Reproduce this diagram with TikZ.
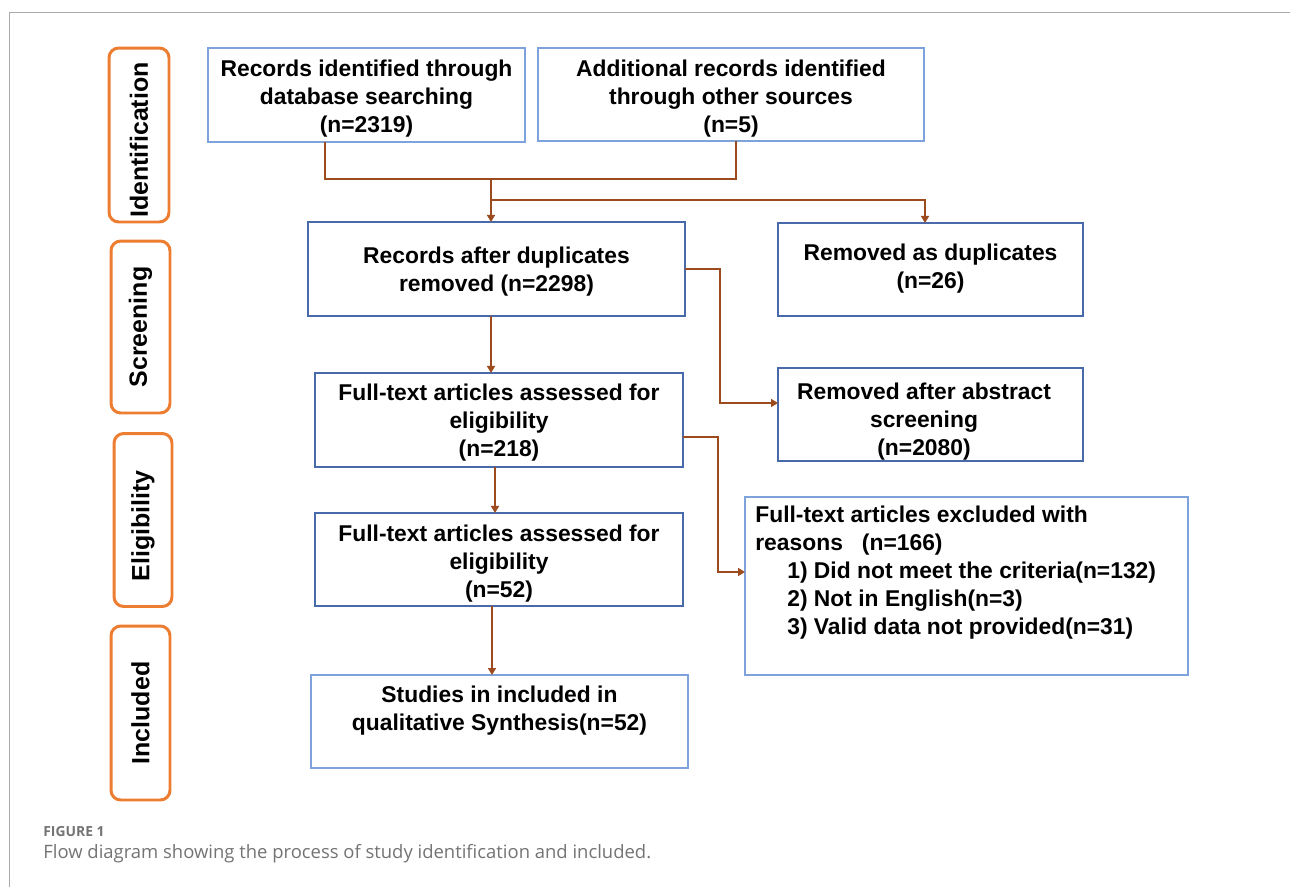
\documentclass[tikz,border=0pt]{standalone}
\usepackage{fontspec}
\setmainfont{Liberation Sans}
\newfontfamily\capfont{Open Sans}
\usetikzlibrary{arrows.meta,calc}
\definecolor{brn}{RGB}{155,75,30}
\definecolor{orng}{RGB}{237,125,49}
\definecolor{lblue}{RGB}{125,162,220}
\definecolor{dblue}{RGB}{72,106,170}
\definecolor{framegray}{RGB}{170,170,170}
\definecolor{capgray}{RGB}{115,115,115}
\begin{document}
\begin{tikzpicture}[x=0.02cm,y=-0.02cm,
  box/.style 2 args={draw, inner sep=0pt, outer sep=0pt, line width=0.85pt,
    minimum width=#1*0.56906pt, minimum height=#2*0.56906pt},
  lbox/.style={draw=lblue},
  dbox/.style={draw=dblue},
  btext/.style={font=\bfseries\fontsize{13pt}{15.9pt}\selectfont, align=center, inner sep=0pt, anchor=north},
  stage/.style 2 args={draw=orng, line width=1.7pt, rounded corners=5.5pt, rotate=90,
    minimum width=#2*0.56906pt, minimum height=#1*0.56906pt, inner sep=0pt,
    font=\bfseries\fontsize{14.2pt}{17pt}\selectfont},
  conn/.style={draw=brn, line width=1.1pt},
  arr/.style={conn, -{Triangle[length=4pt,width=4.5pt]}}]
\useasboundingbox (0,0) rectangle (1290,887);
% frame
\draw[framegray, line width=0.8pt] (9.5,887) -- (9.5,12.5) -- (1290,12.5);
% stage labels
\node[stage={60}{174}] (s1) at (139,135) {Identification\hspace*{5.7pt}};
\node[stage={59}{172}] (s2) at (140.5,327) {Screening};
\node[stage={58}{173}] (s3) at (143,520) {Eligibility\hspace*{6.8pt}};
\node[stage={59}{174}] (s4) at (140.5,713) {Included};
% boxes
\node[box={317}{94}, lbox] (A) at (366.5,95) {};
\node[box={386}{93}, lbox] (B) at (731,94.5) {};
\node[box={377}{94}, dbox] (C) at (496.5,269) {};
\node[box={305}{93}, dbox] (D) at (930.5,269.5) {};
\node[box={368}{94}, dbox] (E) at (499,420) {};
\node[box={305}{93}, dbox] (F) at (930.5,414.5) {};
\node[box={368}{93}, dbox] (G) at (499,559.5) {};
\node[box={443}{178}, lbox] (H) at (966.5,586) {};
\node[box={377}{93}, lbox] (I) at (499.5,721.5) {};
% texts
\node[btext] (tA) at (366.5,59.5) {Records identified through\\database searching\\(n=2319)};
\node[btext] (tB) at (731,59.5) {Additional records identified\\through other sources\\(n=5)};
\node[btext] (tC) at (496.5,246.5) {Records after duplicates\\removed (n=2298)};
\node[btext] (tD) at (930.5,243.5) {Removed as duplicates\\(n=26)};
\node[btext] (tE) at (499,383.5) {Full-text articles assessed for\\eligibility\\(n=218)};
\node[btext] (tF) at (924,382.5) {Removed after abstract\\screening\\(n=2080)};
\node[btext] (tG) at (499,524.5) {Full-text articles assessed for\\eligibility\\(n=52)};
\node[btext, align=left, anchor=north west] (tH) at (755,506) {Full-text articles excluded with\\reasons\ \ \ (n=166)\\\hspace*{18.2pt}1) Did not meet the criteria(n=132)\\\hspace*{18.2pt}2) Not in English(n=3)\\\hspace*{18.2pt}3) Valid data not provided(n=31)};
\node[btext] (tI) at (499.5,685.5) {Studies in included in\\qualitative Synthesis(n=52)};
% junction coordinates
\coordinate (jA) at (325,179);
\coordinate (jB) at (736,179);
\coordinate (jm) at (491,179);
\coordinate (jd) at (491,200);
\coordinate (jd2) at (925,200);
\coordinate (k1) at (720,269);
\coordinate (k2) at (720,403);
\coordinate (m1) at (718,437);
\coordinate (m2) at (718,572);
\coordinate (xe) at (495,0);
\coordinate (xg) at (492,0);
% connectors
\draw[conn] (A.south -| jA) -- (jA) -- (jB) -- (B.south -| jB);
\draw[arr] (jm) -- (C.north -| jm);
\draw[arr] (jd) -- (jd2) -- (D.north -| jd2);
\draw[arr] (C.east |- k1) -- (k1) -- (k2) -- (F.west |- k2);
\draw[arr] (E.east |- m1) -- (m1) -- (m2) -- (H.west |- m2);
\draw[arr] (C.south -| jm) -- (E.north -| jm);
\draw[arr] (E.south -| xe) -- (G.north -| xe);
\draw[arr] (G.south -| xg) -- (I.north -| xg);
% caption
\node[anchor=base west, inner sep=0pt, text=capgray, font=\capfont\bfseries\fontsize{7.9pt}{9pt}\selectfont] (fig) at (43,836) {FIGURE 1};
\node[anchor=base west, inner sep=0pt, text=capgray, font=\capfont\fontsize{10.5pt}{12pt}\selectfont] (cap) at (43,858) {Flow diagram showing the process of study identification and included.};
\end{tikzpicture}
\end{document}
